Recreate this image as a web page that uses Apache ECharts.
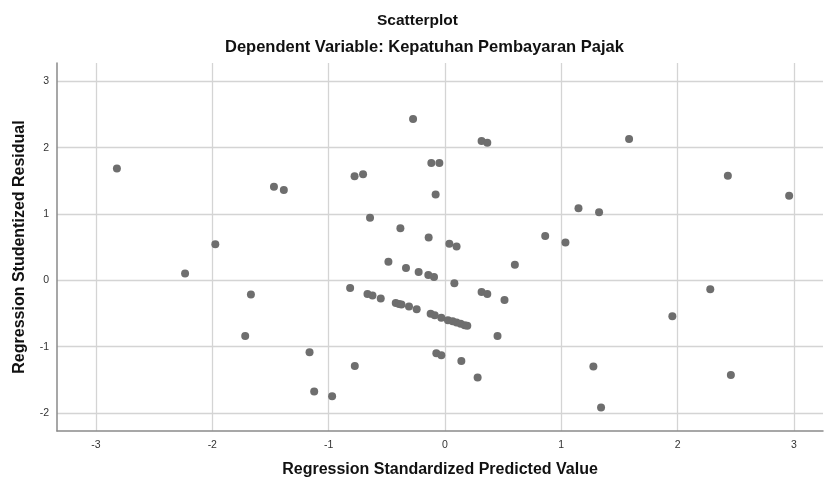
<!DOCTYPE html>
<html>
<head>
<meta charset="utf-8">
<script src="https://cdn.jsdelivr.net/npm/echarts@6/dist/echarts.min.js"></script>
<style>html,body{margin:0;padding:0;background:#fff;}#c{width:824px;height:483px;}</style>
</head>
<body>
<div id="c"></div>
<script>
const xTicks = [-3, -2, -1, 0, 1, 2, 3];
const yTicks = [-2, -1, 0, 1, 2, 3];
const predicted = [
  -2.820, -2.234, -1.974, -1.470, -1.385, -1.668, -1.717, -1.164, -1.124, -0.970,
  -0.775, -0.777, -0.704, -0.644, -0.383, -0.274, -0.486, -0.335, -0.226, -0.143,
  -0.094, 0.081, -0.815, -0.666, -0.623, -0.552, -0.423, -0.395, -0.374, -0.309,
  -0.243, -0.123, -0.088, -0.031, 0.026, 0.066, 0.100, 0.135, 0.169, 0.192,
  0.315, 0.364, -0.117, -0.048, -0.080, -0.140, 0.038, 0.100, 0.601, 0.315,
  0.364, 0.512, 0.452, -0.074, -0.031, 0.141, 0.281, 0.862, 1.036, 1.148,
  1.325, 1.276, 1.342, 1.583, 1.955, 2.281, 2.432, 2.458, 2.959
];
const residual = [
  1.685, 0.105, 0.545, 1.410, 1.360, -0.215, -0.840, -1.085, -1.675, -1.745,
  -1.290, 1.570, 1.600, 0.945, 0.785, 2.430, 0.280, 0.185, 0.125, 0.080,
  0.050, -0.045, -0.115, -0.205, -0.230, -0.275, -0.340, -0.355, -0.365, -0.395,
  -0.435, -0.505, -0.525, -0.565, -0.600, -0.615, -0.635, -0.655, -0.675, -0.685,
  2.100, 2.075, 1.770, 1.770, 1.295, 0.645, 0.550, 0.510, 0.235, -0.175,
  -0.205, -0.295, -0.840, -1.100, -1.130, -1.215, -1.465, 0.670, 0.570, 1.085,
  1.025, -1.300, -1.915, 2.130, -0.540, -0.135, 1.575, -1.425, 1.275
];
const points = predicted.map((x, i) => [x, residual[i]]);
const font = '"Liberation Sans", Arial, sans-serif';
const chart = echarts.init(document.getElementById('c'), null, {renderer: 'canvas'});
chart.setOption({
  animation: false,
  backgroundColor: '#ffffff',
  title: [
    {text: 'Scatterplot', left: 372, top: 8, padding: 5,
     textStyle: {fontFamily: font, fontSize: 15.5, fontWeight: 'bold', color: '#111'}},
    {text: 'Dependent Variable: Kepatuhan Pembayaran Pajak', left: 220, top: 34, padding: 5,
     textStyle: {fontFamily: font, fontSize: 16.5, fontWeight: 'bold', color: '#111'}}
  ],
  grid: {left: 57, right: 1, top: 63, bottom: 50, containLabel: false},
  xAxis: {
    type: 'value', min: -3.335, max: 3.25,
    name: 'Regression Standardized Predicted Value',
    nameLocation: 'middle', nameGap: 31,
    nameTextStyle: {fontFamily: font, fontSize: 16, fontWeight: 'bold', color: '#111'},
    axisLine: {show: true, onZero: false, lineStyle: {color: '#8a8a8a', width: 1.5}},
    axisTick: {show: false, customValues: xTicks},
    axisLabel: {customValues: xTicks, fontFamily: font, fontSize: 10.5, color: '#333', margin: 9},
    splitLine: {show: true, lineStyle: {color: '#d4d4d4', width: 1.3}}
  },
  yAxis: {
    type: 'value', min: -2.27, max: 3.275,
    name: 'Regression Studentized Residual',
    nameLocation: 'middle', nameGap: 29, nameRotate: 90,
    nameTextStyle: {fontFamily: font, fontSize: 16, fontWeight: 'bold', color: '#111'},
    axisLine: {show: true, onZero: false, lineStyle: {color: '#8a8a8a', width: 1.5}},
    axisTick: {show: false, customValues: yTicks},
    axisLabel: {customValues: yTicks, fontFamily: font, fontSize: 10.5, color: '#333', margin: 8},
    splitLine: {show: true, lineStyle: {color: '#d4d4d4', width: 1.3}}
  },
  series: [{
    type: 'scatter',
    data: points,
    symbol: 'circle',
    symbolSize: 8,
    itemStyle: {color: '#6e6e6e', opacity: 1}
  }]
});
</script>
</body>
</html>
